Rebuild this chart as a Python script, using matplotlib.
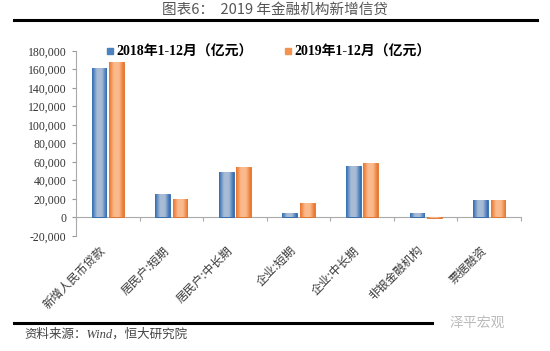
import numpy as np
import matplotlib
matplotlib.use('Agg')
import matplotlib.pyplot as plt
from matplotlib.colors import LinearSegmentedColormap
from matplotlib.lines import Line2D

plt.rcParams['font.family'] = ['Liberation Serif', 'Noto Sans CJK SC', 'DejaVu Sans']

# data (亿元)
categories = ['新增人民币贷款', '居民户:短期', '居民户:中长期', '企业:短期',
              '企业:中长期', '非银金融机构', '票据融资']
y2018 = [161700, 24800, 49600, 5000, 56000, 4300, 19000]
y2019 = [168100, 19700, 54600, 15800, 58500, -500, 18300]
label2018 = '2018年1-12月（亿元）'
label2019 = '2019年1-12月（亿元）'
yticks = list(range(-20000, 180001, 20000))


def shade(ax, bars, dark, light):
    # fake the excel-style gradient fill
    cmap = LinearSegmentedColormap.from_list('g', [dark, light, light, dark])
    grad = np.linspace(0, 1, 64).reshape(1, -1)
    for b in bars:
        x, y = b.get_x(), b.get_y()
        w, h = b.get_width(), b.get_height()
        im = ax.imshow(grad, cmap=cmap, aspect='auto', interpolation='bicubic',
                       extent=(x, x + w, y, y + h), zorder=b.get_zorder())
        im.set_clip_path(b)


fig = plt.figure(figsize=(5.5, 3.51), dpi=100)
ax = fig.add_axes([0.1382, 0.328, 0.809, 0.527])

x = np.arange(len(categories))
w = 0.23
off = 0.137
b1 = ax.bar(x - off, y2018, w, color='#3f78bb', edgecolor='#2f68ab', linewidth=0.6, zorder=3)
b2 = ax.bar(x + off, y2019, w, color='#f4924a', edgecolor='#e2702a', linewidth=0.6, zorder=3)
shade(ax, b1, '#2d6ab2', '#a8bcd6')
shade(ax, b2, '#e8722a', '#fbba8c')

ax.set_xlim(-0.5, len(categories) - 0.5)
ax.set_ylim(-20000, 180000)
ax.set_yticks(yticks)
ax.set_yticklabels([f'{v:,}' for v in yticks], fontsize=8.5, color='#333333')
ax.tick_params(axis='y', direction='out', length=3, width=0.8, color='#999999', pad=4)

for s in ['top', 'right']:
    ax.spines[s].set_visible(False)
ax.spines['left'].set_color('#aaaaaa')
ax.spines['bottom'].set_color('#aaaaaa')
ax.spines['bottom'].set_position(('data', 0))

ax.set_xticks(x)
ax.set_xticklabels(categories, rotation=45, ha='right', va='top',
                   fontsize=8.5, color='#3a3a3a', family='Noto Sans CJK SC')
ax.tick_params(axis='x', which='major', length=0, pad=19)
ax.set_xticks(np.arange(-0.5, len(categories)), minor=True)
ax.tick_params(axis='x', which='minor', direction='out', length=3, width=0.8, color='#aaaaaa')

h1 = Line2D([], [], marker='s', color='none', markerfacecolor='#4a82c0', markeredgecolor='#4a82c0', markersize=5)
h2 = Line2D([], [], marker='s', color='none', markerfacecolor='#f29450', markeredgecolor='#f29450', markersize=5)
fig.legend([h1, h2], [label2018, label2019], ncol=2, frameon=False,
           loc='center', bbox_to_anchor=(0.488, 1 - 52 / 351),
           prop={'weight': 'bold', 'size': 10}, handlelength=0.6, handletextpad=0.2,
           columnspacing=2.2)

fig.text(0.5, 1 - 10 / 351, '图表6：  2019 年金融机构新增信贷', ha='center', va='center',
         fontsize=10.5, color='#555555', family='Noto Sans CJK SC')
fig.add_artist(Line2D([14 / 550, 537 / 550], [1 - 20 / 351] * 2, color='black', lw=2.2))
fig.add_artist(Line2D([14 / 550, 432 / 550], [1 - 323 / 351] * 2, color='black', lw=2.2))
fig.text(24 / 550, 1 - 334 / 351, '资料来源：Wind，恒大研究院', ha='left', va='center',
         fontsize=9, color='#444444', style='italic')
fig.text(505 / 550, 1 - 323 / 351, '泽平宏观', ha='right', va='center',
         fontsize=10, color='#bbbbbb', family='Noto Sans CJK SC')

fig.savefig('out.png', dpi=100)
